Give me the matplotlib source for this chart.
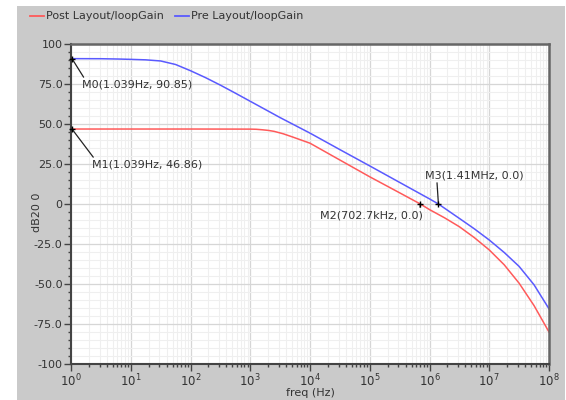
import numpy as np
import matplotlib.pyplot as plt
from matplotlib.patches import Rectangle
from matplotlib.lines import Line2D
from matplotlib.ticker import LogLocator, MultipleLocator, NullFormatter

# loop gain (frequency in Hz, gain in dB)
pre_freq = [1, 3.16, 6.3, 10, 17.8, 31.6, 56.2, 100, 178, 316, 562, 1e3, 3.16e3, 1e4,
            3.16e4, 1e5, 3.16e5, 1e6, 1.41e6, 1.78e6, 3.16e6, 5.62e6, 1e7, 1.78e7,
            3.16e7, 5.62e7, 1e8]
pre_gain = [90.85, 90.8, 90.6, 90.4, 90.1, 89.4, 87.2, 83.3, 79.0, 74.3, 69.3, 64.2,
            54.0, 44.3, 34.0, 23.8, 13.5, 3.2, 0.0, -2.6, -9.0, -15.5, -22.5, -30.3,
            -39.0, -50.5, -65.5]

post_freq = [1, 10, 100, 1e3, 1.26e3, 1.58e3, 2.0e3, 2.51e3, 3.55e3, 5.01e3, 1e4,
             3.16e4, 1e5, 3.16e5, 7.027e5, 1e6, 1.78e6, 3.16e6, 5.62e6, 1e7, 1.78e7,
             3.16e7, 5.62e7, 1e8]
post_gain = [46.86, 46.86, 46.86, 46.8, 46.7, 46.4, 46.0, 45.4, 43.9, 42.0, 38.0,
             27.5, 17.0, 7.0, 0.0, -3.5, -8.6, -14.2, -21.0, -28.7, -38.0,
             -49.5, -63.5, -80.0]

series_names = ["Post Layout/loopGain", "Pre Layout/loopGain"]
xtick_vals = [1, 1e1, 1e2, 1e3, 1e4, 1e5, 1e6, 1e7, 1e8]
ytick_vals = [100, 75, 50, 25, 0, -25, -50, -75, -100]
ytick_labels = ["100", "75.0", "50.0", "25.0", "0", "-25.0", "-50.0", "-75.0", "-100"]

# markers: name, freq, gain, label text
markers = [
    ("M0", 1.039, 90.85, "M0(1.039Hz, 90.85)"),
    ("M1", 1.039, 46.86, "M1(1.039Hz, 46.86)"),
    ("M2", 702.7e3, 0.0, "M2(702.7kHz, 0.0)"),
    ("M3", 1.41e6, 0.0, "M3(1.41MHz, 0.0)"),
]

red = "#ff5a5a"
blue = "#5a5aff"
txt = "#333333"

fig = plt.figure(figsize=(5.66, 4.0), dpi=100)
fig.patch.set_facecolor("white")
fig.patches.append(Rectangle((17 / 566, 0), 548 / 566, 394 / 400, transform=fig.transFigure,
                             facecolor="#cacaca", edgecolor="none", zorder=-10))

ax = fig.add_axes([71 / 566, 36 / 400, 478 / 566, 320 / 400])
ax.set_facecolor("white")

ax.plot(post_freq, post_gain, color=red, lw=1.1)
ax.plot(pre_freq, pre_gain, color=blue, lw=1.1)

ax.set_xscale("log")
ax.set_xticks(xtick_vals)
ax.xaxis.set_minor_locator(LogLocator(base=10, subs=np.arange(2, 10), numticks=20))
ax.xaxis.set_minor_formatter(NullFormatter())
ax.set_xlim(1, 1e8)
ax.set_ylim(-100, 100)
ax.set_yticks(ytick_vals)
ax.set_yticklabels(ytick_labels)
ax.yaxis.set_minor_locator(MultipleLocator(5))

ax.grid(which="major", color="#d6d6d6", lw=0.9)
ax.grid(which="minor", color="#efefef", lw=0.8)
ax.set_axisbelow(True)

ax.tick_params(which="major", direction="out", length=5, width=1, color="#444444",
               labelcolor=txt, labelsize=8, pad=1)
ax.tick_params(which="minor", direction="out", length=2.5, width=1, color="#444444")
ax.tick_params(axis="x", labelsize=8.5)

for side in ["left", "bottom"]:
    ax.spines[side].set_color("#444444")
    ax.spines[side].set_linewidth(1.5)
for side in ["top", "right"]:
    ax.spines[side].set_color("#666666")
    ax.spines[side].set_linewidth(1.8)

# marker annotations
text_pos = {
    "M0": ((1.53, 74.4), "left", (0.03, 1.0)),
    "M1": ((2.25, 24.4), "left", (0.03, 1.0)),
    "M2": ((7.78e5, -6.9), "right", (0.97, 1.0)),
    "M3": ((8.41e5, 18.1), "left", (0.12, 0.0)),
}
for name, f, g, label in markers:
    (tx, ty), ha, rp = text_pos[name]
    ax.plot([f], [g], marker="+", color="black", ms=5, mew=1, zorder=5, clip_on=False)
    ax.annotate(label, xy=(f, g), xytext=(tx, ty), ha=ha, va="center",
                fontsize=8, color=txt,
                arrowprops=dict(arrowstyle="-", color="#222222", lw=0.9, relpos=rp,
                                shrinkA=0, shrinkB=0))

# legend strip at top
fig.lines.append(Line2D([30 / 566, 44 / 566], [1 - 16 / 400] * 2, color=red, lw=1.3,
                        transform=fig.transFigure))
fig.text(46 / 566, 1 - 16 / 400, series_names[0], fontsize=8, color=txt, va="center")
fig.lines.append(Line2D([175 / 566, 189 / 566], [1 - 16 / 400] * 2, color=blue, lw=1.3,
                        transform=fig.transFigure))
fig.text(191 / 566, 1 - 16 / 400, series_names[1], fontsize=8, color=txt, va="center")

fig.text(37 / 566, 1 - 212 / 400, "dB20 0", rotation=90, fontsize=8, color=txt,
         ha="center", va="center")
fig.text(310 / 566, 1 - 393 / 400, "freq (Hz)", fontsize=8, color=txt,
         ha="center", va="center")

fig.savefig("out.png", dpi=100)
